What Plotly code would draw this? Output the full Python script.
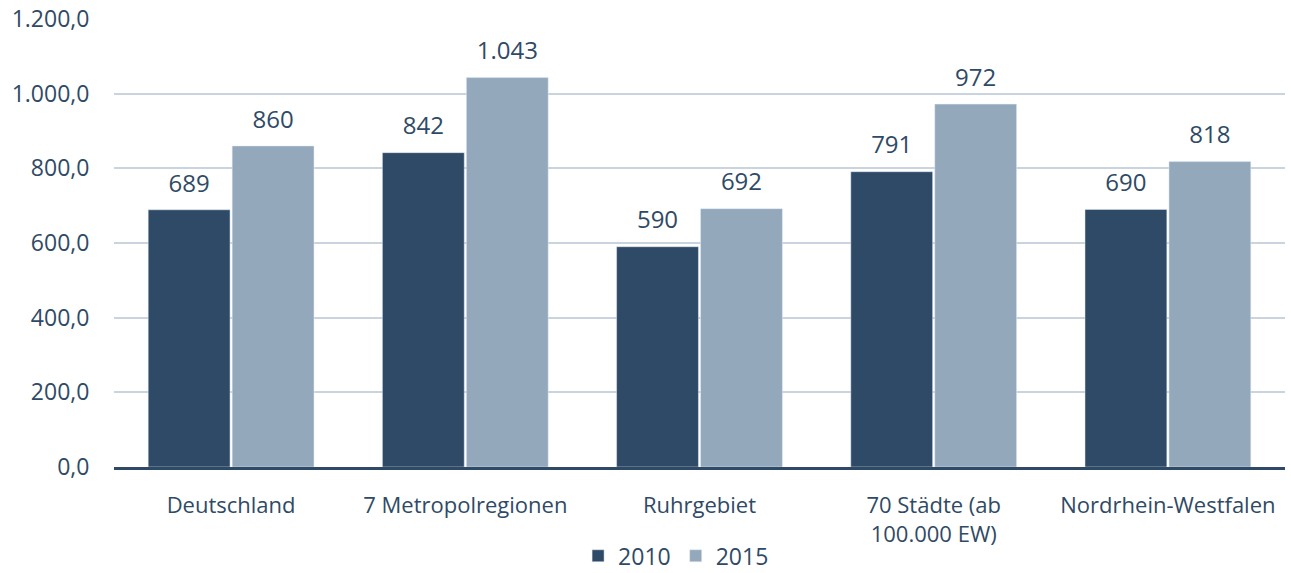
import plotly.graph_objects as go

categories = ["Deutschland", "7 Metropolregionen", "Ruhrgebiet", "70 Städte (ab<br>100.000 EW)", "Nordrhein-Westfalen"]
values_2010 = [689, 842, 590, 791, 690]
values_2015 = [860, 1043, 692, 972, 818]
y_ticks = [0, 200, 400, 600, 800, 1000, 1200]

dark = "#2F4A66"
light = "#94A8BC"
text_col = "#2F4A66"
font = "Open Sans"

fig = go.Figure()
for name, vals, col, grp in [("2010", values_2010, dark, "a"), ("2015", values_2015, light, "b")]:
    fig.add_trace(go.Bar(name=name, x=categories, y=vals, marker_color=col, offsetgroup=grp,
                         hoverinfo="x+y"))
for name, vals, grp in [("2010", values_2010, "a"), ("2015", values_2015, "b")]:
    fig.add_trace(go.Scatter(name=name + " labels", x=categories, y=vals, offsetgroup=grp,
                             mode="markers+text", marker=dict(size=18, opacity=0),
                             texttemplate="%{y:,.0f}", textposition="top center",
                             textfont=dict(size=24, color=text_col, family=font),
                             showlegend=False, hoverinfo="skip", cliponaxis=False))

fig.update_layout(
    width=1291, height=573,
    margin=dict(l=114, r=6, t=19, b=106),
    barmode="group", bargap=0.283, bargroupgap=0.025,
    scattermode="group", scattergap=0.283,
    plot_bgcolor="white", paper_bgcolor="white",
    separators=",.",
    font=dict(family=font, color=text_col, size=22),
    legend=dict(orientation="h", x=0.48, xanchor="center", yref="container", y=0.03, yanchor="middle",
                font=dict(size=23, color=text_col), itemwidth=30, traceorder="normal"),
    xaxis=dict(showline=True, linecolor=dark, linewidth=3, ticks="outside", ticklen=17,
               tickcolor="rgba(0,0,0,0)", tickfont=dict(size=22, color=text_col), automargin=False),
    yaxis=dict(range=[0, 1200], tickvals=y_ticks, tickformat=",.1f", showgrid=True,
               gridcolor="#C9D4DF", gridwidth=2, zeroline=False, ticks="outside", ticklen=19,
               tickcolor="rgba(0,0,0,0)", tickfont=dict(size=23, color=text_col), automargin=False),
)
fig.write_html("out.html", config={"displayModeBar": False},
               post_script="document.body.style.margin='0';document.body.style.overflow='hidden';")
